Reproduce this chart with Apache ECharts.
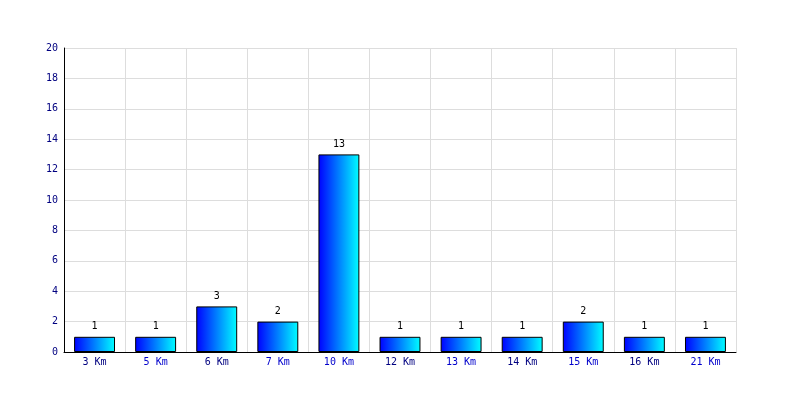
<!DOCTYPE html>
<html><head><meta charset="utf-8">
<script src="https://cdn.jsdelivr.net/npm/echarts@6/dist/echarts.min.js"></script>
<style>html,body{margin:0;padding:0;background:#fff}#c{width:800px;height:400px}</style>
</head><body><div id="c"></div>
<script>
const categories = ['3 Km','5 Km','6 Km','7 Km','10 Km','12 Km','13 Km','14 Km','15 Km','16 Km','21 Km'];
const values = [1,1,3,2,13,1,1,1,2,1,1];
const labelColors = ['#000080','#0000cc','#000080','#0000cc','#0000cc','#000080','#0000cc','#000080','#0000cc','#000080','#0000cc'];
const font = 'DejaVu Sans Mono';
const chart = echarts.init(document.getElementById('c'));
chart.setOption({
  animation:false,
  grid:{left:64,right:64,top:48,bottom:48,containLabel:false,show:false},
  xAxis:{type:'category',data:categories.map((c,i)=>({value:c,textStyle:{color:labelColors[i]}})),
    axisLine:{lineStyle:{color:'#000',width:1}},axisTick:{show:false},
    splitLine:{show:true,lineStyle:{color:'#dddddd'}},
    axisLabel:{fontFamily:font,fontSize:10,margin:5,interval:0}},
  yAxis:{type:'value',min:0,max:20,interval:2,
    axisLine:{show:true,lineStyle:{color:'#000'}},axisTick:{show:false},
    splitLine:{lineStyle:{color:'#dddddd'}},
    axisLabel:{fontFamily:font,fontSize:10,color:'#000080',margin:6}},
  series:[{type:'bar',data:values,barWidth:'67%',
    itemStyle:{borderColor:'#000',borderWidth:1,
      color:new echarts.graphic.LinearGradient(0,0,1,0,[{offset:0,color:'#0000ff'},{offset:1,color:'#00ffff'}])},
    label:{show:true,position:'top',distance:5,fontFamily:font,fontSize:10,color:'#000'}}]
});
// right border line of plot
</script></body></html>
